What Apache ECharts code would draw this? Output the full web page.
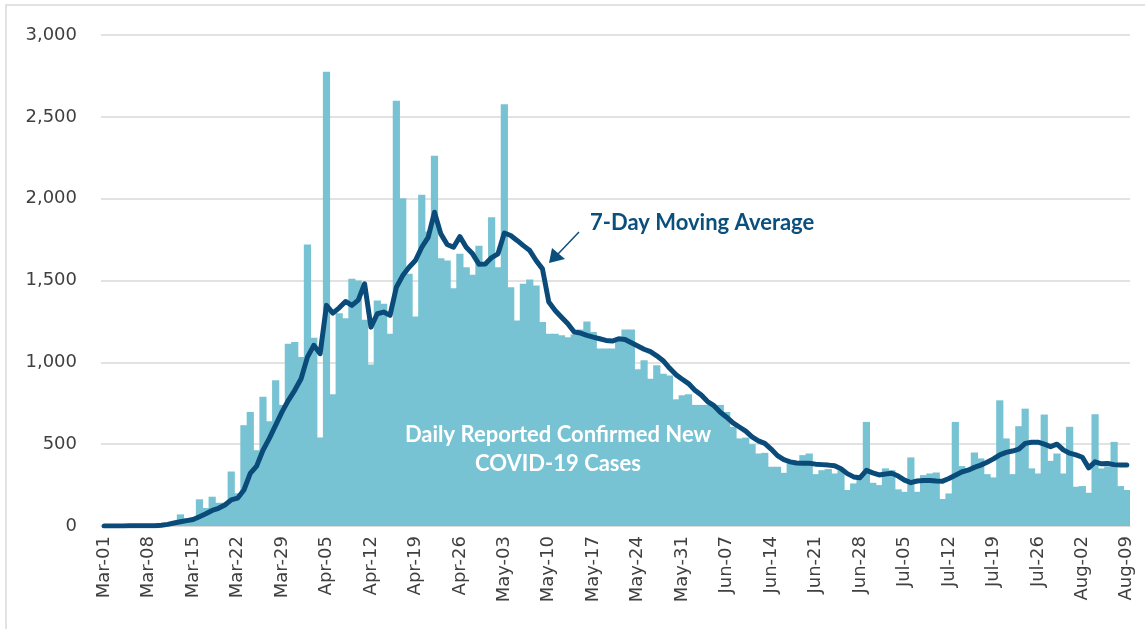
<!DOCTYPE html>
<html>
<head>
<meta charset="utf-8">
<script src="https://cdn.jsdelivr.net/npm/echarts@6/dist/echarts.min.js"></script>
<style>
    html, body { margin: 0; padding: 0; background: #fff; }
    #chart { width: 1145px; height: 629px; }
</style>
</head>
<body>
<div id="chart"></div>
<script>
    // categories: Mar-01 .. Aug-09, one per day
    var months = ['Mar', 'Apr', 'May', 'Jun', 'Jul', 'Aug'];
    var monthDays = [31, 30, 31, 30, 31, 9];
    var days = [];
    months.forEach(function (m, k) {
        for (var d = 1; d <= monthDays[k]; d++) {
            days.push(m + '-' + (d < 10 ? '0' + d : d));
        }
    });

    // daily reported confirmed new cases
    var dailyCases = [
        0, 0, 0, 1, 0, 1, 2, 1, 3, 5,
        12, 20, 71, 47, 50, 163, 110, 179, 142, 142,
        333, 200, 616, 697, 463, 789, 640, 890, 740, 1114,
        1124, 1032, 1720, 1150, 541, 2776, 805, 1300, 1270, 1510,
        1500, 1260, 986, 1378, 1358, 1175, 2598, 2002, 1541, 1280,
        2024, 1800, 2262, 1636, 1622, 1453, 1663, 1581, 1535, 1713,
        1600, 1886, 1581, 2577, 1459, 1256, 1480, 1506, 1470, 1246,
        1175, 1175, 1165, 1154, 1170, 1200, 1250, 1185, 1085, 1085,
        1085, 1150, 1200, 1200, 957, 1012, 900, 982, 931, 920,
        774, 799, 805, 740, 740, 740, 740, 740, 697, 606,
        535, 540, 500, 443, 447, 362, 362, 325, 382, 382,
        433, 443, 317, 341, 348, 321, 340, 220, 260, 290,
        636, 264, 250, 352, 341, 224, 209, 419, 209, 311,
        321, 327, 165, 199, 636, 366, 352, 449, 413, 317,
        297, 768, 535, 317, 610, 717, 352, 321, 681, 398,
        443, 321, 606, 240, 244, 203, 683, 352, 362, 514,
        244, 220
    ];

    // 7-day moving average line
    var movingAvg = [
        0, 0, 0, 0, 1, 1, 1, 1, 2, 4,
        10, 18, 26, 33, 40, 57, 75, 95, 108, 128,
        160, 170, 220, 321, 366, 463, 535, 616, 697, 768,
        829, 900, 1032, 1104, 1053, 1348, 1301, 1333, 1372, 1348,
        1380, 1480, 1215, 1297, 1307, 1287, 1459, 1530, 1581, 1622,
        1703, 1764, 1917, 1785, 1720, 1703, 1768, 1703, 1663, 1600,
        1601, 1640, 1663, 1790, 1775, 1745, 1713, 1683, 1622, 1571,
        1368, 1317, 1276, 1236, 1185, 1179, 1165, 1154, 1144, 1134,
        1130, 1144, 1140, 1120, 1100, 1080, 1065, 1040, 1010, 965,
        925, 897, 870, 830, 800, 760, 735, 695, 665, 630,
        605, 580, 545, 520, 505, 470, 430, 405, 392, 385,
        383, 383, 378, 375, 372, 368, 350, 320, 300, 295,
        340, 325, 312, 318, 322, 305, 280, 265, 275, 278,
        278, 275, 274, 290, 310, 330, 341, 358, 372, 390,
        410, 435, 450, 458, 470, 505, 512, 512, 500, 485,
        500, 465, 445, 435, 420, 355, 392, 380, 382, 375,
        372, 372
    ];

    var myChart = echarts.init(document.getElementById('chart'));
    var option = {
        animation: false,
        backgroundColor: '#ffffff',
        grid: { left: 101, right: 15, top: 35, bottom: 103 },
        xAxis: {
            type: 'category',
            data: days,
            axisLine: { lineStyle: { color: '#d9d9d9', width: 1.5 } },
            axisTick: { show: false },
            axisLabel: {
                interval: 6,
                rotate: 90,
                margin: 10,
                color: '#404040',
                fontFamily: 'DejaVu Sans',
                fontSize: 18
            }
        },
        yAxis: {
            type: 'value',
            min: 0,
            max: 3000,
            interval: 500,
            axisLine: { show: false },
            axisTick: { show: false },
            axisLabel: {
                margin: 24,
                color: '#404040',
                fontFamily: 'DejaVu Sans',
                fontSize: 18,
                formatter: function (v) { return v.toLocaleString('en-US'); }
            },
            splitLine: { lineStyle: { color: '#d9d9d9', width: 1.5 } }
        },
        series: [
            {
                name: 'Daily Reported Confirmed New COVID-19 Cases',
                type: 'bar',
                data: dailyCases,
                barWidth: 7.2,   // a bit wider than a category so neighbours overlap, no seams
                itemStyle: { color: '#78c3d3' }
            },
            {
                name: '7-Day Moving Average',
                type: 'line',
                data: movingAvg,
                symbol: 'none',
                z: 5,
                lineStyle: { color: '#0a4b7a', width: 5, cap: 'round', join: 'round' }
            }
        ],
        graphic: [
            {   // chart area frame
                type: 'rect',
                z: 100,
                shape: { x: 6, y: 5, width: 1300, height: 800 },
                style: { fill: 'none', stroke: '#d9d9d9', lineWidth: 1.5 },
                silent: true
            },
            {
                type: 'text',
                z: 100,
                x: 590, y: 212,
                style: {
                    text: '7-Day Moving Average',
                    fill: '#0b4f7c',
                    font: 'bold 22px Lato'
                }
            },
            {
                type: 'line',
                z: 100,
                shape: { x1: 579, y1: 232, x2: 558, y2: 254 },
                style: { stroke: '#0b4f7c', lineWidth: 1.5 }
            },
            {
                type: 'polygon',
                z: 100,
                shape: { points: [[549, 263], [552, 248], [565, 259]] },
                style: { fill: '#0b4f7c' }
            },
            {
                type: 'text',
                z: 100,
                x: 558, y: 420,
                style: {
                    text: 'Daily Reported Confirmed New\nCOVID-19 Cases',
                    fill: '#ffffff',
                    font: 'bold 22px Lato',
                    align: 'center',
                    lineHeight: 29
                }
            }
        ]
    };
    myChart.setOption(option);
</script>
</body>
</html>
